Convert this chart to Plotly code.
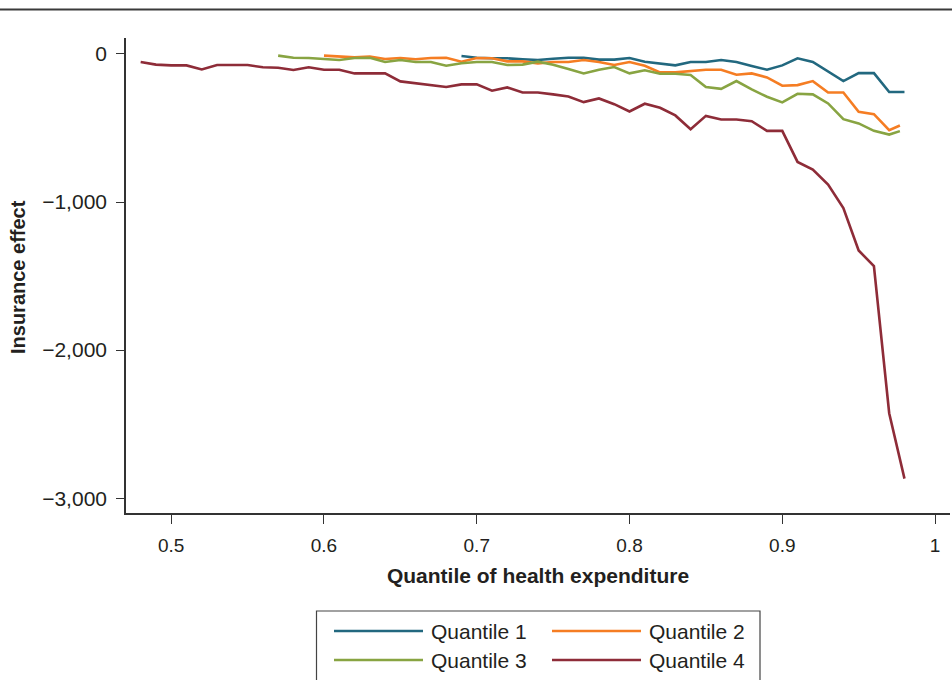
import plotly.graph_objects as go

# ---------------- data ----------------
series_names = ["Quantile 1", "Quantile 2", "Quantile 3", "Quantile 4"]
series_colors = ["#22687f", "#f57d23", "#88a442", "#8e2c38"]

q1_x = [0.69, 0.70, 0.71, 0.72, 0.73, 0.74, 0.75, 0.76, 0.77, 0.78, 0.79, 0.80, 0.81, 0.82,
        0.83, 0.84, 0.85, 0.86, 0.87, 0.88, 0.89, 0.90, 0.91, 0.92, 0.93, 0.94, 0.95, 0.96,
        0.97, 0.98]
q1_y = [-14, -25, -29, -29, -36, -41, -32, -25, -25, -38, -38, -27, -52, -63,
        -77, -54, -54, -41, -54, -81, -106, -77, -29, -54, -120, -183, -129, -129,
        -257, -257]

q2_x = [0.60, 0.61, 0.62, 0.63, 0.64, 0.65, 0.66, 0.67, 0.68, 0.69, 0.70, 0.71, 0.72, 0.73,
        0.74, 0.75, 0.76, 0.77, 0.78, 0.79, 0.80, 0.81, 0.82, 0.83, 0.84, 0.85, 0.86, 0.87,
        0.88, 0.89, 0.90, 0.91, 0.92, 0.93, 0.94, 0.95, 0.96, 0.97, 0.977]
q2_y = [-11, -18, -23, -18, -34, -27, -36, -27, -25, -52, -27, -29, -50, -50,
        -63, -54, -54, -41, -54, -74, -54, -79, -124, -124, -113, -106, -106, -140,
        -131, -158, -214, -210, -183, -260, -260, -390, -406, -515, -483]

q3_x = [0.57, 0.58, 0.59, 0.60, 0.61, 0.62, 0.63, 0.64, 0.65, 0.66, 0.67, 0.68, 0.69, 0.70,
        0.71, 0.72, 0.73, 0.74, 0.75, 0.76, 0.77, 0.78, 0.79, 0.80, 0.81, 0.82, 0.83, 0.84,
        0.85, 0.86, 0.87, 0.88, 0.89, 0.90, 0.91, 0.92, 0.93, 0.94, 0.95, 0.96, 0.97, 0.977]
q3_y = [-11, -25, -27, -34, -41, -27, -25, -54, -41, -54, -54, -79, -63, -54,
        -54, -74, -72, -52, -72, -102, -131, -106, -88, -131, -110, -133, -133, -142,
        -223, -235, -183, -239, -289, -327, -269, -273, -334, -440, -469, -519, -544, -521]

q4_x = [0.48, 0.49, 0.50, 0.51, 0.52, 0.53, 0.54, 0.55, 0.56, 0.57, 0.58, 0.59, 0.60, 0.61,
        0.62, 0.63, 0.64, 0.65, 0.66, 0.67, 0.68, 0.69, 0.70, 0.71, 0.72, 0.73, 0.74, 0.75,
        0.76, 0.77, 0.78, 0.79, 0.80, 0.81, 0.82, 0.83, 0.84, 0.85, 0.86, 0.87, 0.88, 0.89,
        0.90, 0.91, 0.92, 0.93, 0.94, 0.95, 0.96, 0.97, 0.98]
q4_y = [-54, -72, -77, -77, -104, -74, -74, -74, -90, -93, -108, -90, -106, -106,
        -131, -131, -131, -185, -199, -210, -223, -205, -205, -248, -226, -260, -260, -273,
        -287, -325, -300, -339, -388, -336, -363, -415, -508, -418, -442, -442, -454, -519,
        -519, -729, -781, -882, -1040, -1327, -1433, -2426, -2868]

x_tickvals = [0.5, 0.6, 0.7, 0.8, 0.9, 1.0]
x_ticktext = ["0.5", "0.6", "0.7", "0.8", "0.9", "1"]
y_tickvals = [0, -1000, -2000, -3000]
y_ticktext = ["0", "\u22121,000", "\u22122,000", "\u22123,000"]

x_title = "Quantile of health expenditure"
y_title = "Insurance effect"

# ---------------- figure ----------------
FONT = "Liberation Sans, Arial, Helvetica, sans-serif"
TXT = "#231f20"
AX = "#333333"

xs = [q1_x, q2_x, q3_x, q4_x]
ys = [q1_y, q2_y, q3_y, q4_y]

fig = go.Figure()
for name, color, x, y in zip(series_names, series_colors, xs, ys):
    fig.add_trace(go.Scatter(x=x, y=y, mode="lines", name=name,
                             line=dict(color=color, width=2.6),
                             showlegend=False))

fig.update_layout(
    width=952, height=680,
    margin=dict(l=126, r=2, t=38, b=167),
    paper_bgcolor="white", plot_bgcolor="white",
    font=dict(family=FONT, color=TXT, size=18),
    xaxis=dict(range=[0.4704, 1.0098], tickvals=x_tickvals, ticktext=x_ticktext,
               automargin=False,
               showgrid=False, zeroline=False, showline=True, linecolor=AX, linewidth=1.6,
               ticks="outside", ticklen=9, tickwidth=1.2, tickcolor=AX,
               tickfont=dict(size=19, family=FONT, color=TXT),
               ticklabelstandoff=5,
               title=dict(text="<b>" + x_title + "</b>", font=dict(size=21, family=FONT, color=TXT),
                          standoff=14)),
    yaxis=dict(range=[-3100, 108], tickvals=y_tickvals, ticktext=y_ticktext,
               automargin=False,
               showgrid=False, zeroline=False, showline=True, linecolor=AX, linewidth=1.6,
               ticks="outside", ticklen=8, tickwidth=1.2, tickcolor=AX,
               tickfont=dict(size=21, family=FONT, color=TXT),
               ticklabelstandoff=5),
)

# helper: pixel -> paper
PL, PR, PT, PB = 126, 950, 38, 513
def px_x(p):
    return (p - PL) / (PR - PL)
def px_y(p):
    return (PB - p) / (PB - PT)

shapes = []
annotations = []
# y-axis title
annotations.append(dict(xref="paper", yref="paper", x=px_x(18), y=px_y(277),
                        text="<b>" + y_title + "</b>", textangle=-90, showarrow=False,
                        xanchor="center", yanchor="middle",
                        font=dict(size=20, family=FONT, color=TXT)))
# top rule across the whole figure
shapes.append(dict(type="line", xref="paper", yref="paper",
                   x0=px_x(0), x1=px_x(952), y0=px_y(9.5), y1=px_y(9.5),
                   line=dict(color="#3a3a3a", width=2)))
# legend box
shapes.append(dict(type="rect", xref="paper", yref="paper",
                   x0=px_x(316.5), x1=px_x(760), y0=px_y(611), y1=px_y(705),
                   line=dict(color="#444444", width=1.2), fillcolor="rgba(0,0,0,0)"))

legend_pos = [(334, 423, 631), (552, 641, 631), (334, 423, 660), (552, 641, 660)]
for name, color, (lx0, lx1, ly) in zip(series_names, series_colors, legend_pos):
    shapes.append(dict(type="line", xref="paper", yref="paper",
                       x0=px_x(lx0), x1=px_x(lx1), y0=px_y(ly), y1=px_y(ly),
                       line=dict(color=color, width=2.6)))
    annotations.append(dict(xref="paper", yref="paper", x=px_x(lx1 + 6), y=px_y(ly),
                            text=name, showarrow=False, xanchor="left", yanchor="middle",
                            font=dict(size=21, family=FONT, color=TXT)))

fig.update_layout(shapes=shapes, annotations=annotations)

fig.write_html("out.html",
               config={"displayModeBar": False},
               post_script="document.body.style.margin='0';document.body.style.padding='0';"
                           "document.body.style.overflow='hidden';")
